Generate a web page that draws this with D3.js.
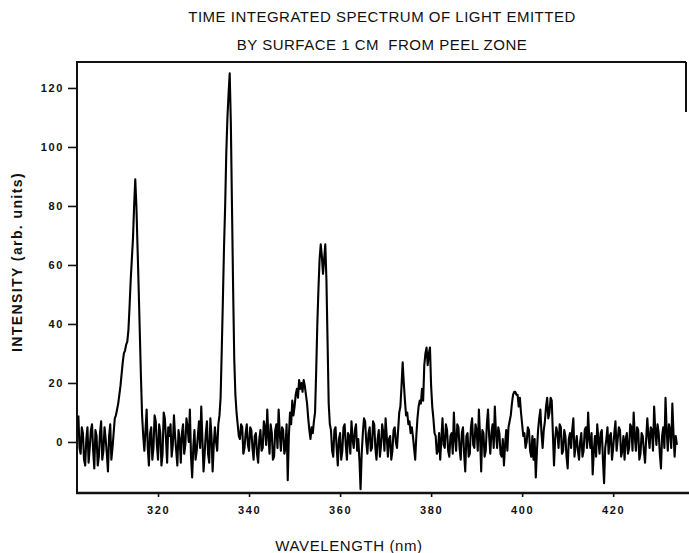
<!DOCTYPE html>
<html>
<head>
<meta charset="utf-8">
<script src="https://cdn.jsdelivr.net/npm/d3@7"></script>
<style>
  body { margin: 0; background: #fff; }
  svg { display: block; font-family: "Liberation Sans", Arial, sans-serif; }
  .tick text { font-weight: bold; font-size: 11px; letter-spacing: 1.6px; fill: #111; }
  .tick line { stroke: #111; stroke-width: 1.6; }
  .domain { display: none; }
</style>
</head>
<body>
<div id="chart"></div>
<script>
// Spectrum samples, one every 0.25 nm starting at 302.5 nm
const wavelengthStart = 302.5;
const wavelengthStep = 0.25;
const intensity = [
  // 302.5 - 312.25
  9, -2, -4, 5, 3, -6, -8, 1, 5, -7, -2, 4, 6, -3, -9, 4, 2, -8, -5, 3,
  7, -6, -3, 5, 1, -4, -10, 2, 6, -6, -2, 3, 8, 9, 11, 13, 16, 19, 23, 27,
  // 312.5 - 322.25
  30, 31, 33, 34, 38, 46, 55, 62, 69, 80, 89, 80, 66, 52, 37, 22, 9, 2, -3, 4,
  11, -2, -8, 3, 5, -6, -2, 9, 7, -1, -6, 6, 3, -8, -4, 10, 8, 1, -7, 5,
  // 322.5 - 332.25
  2, 6, -5, -1, 9, 2, -3, -8, 4, 1, -7, 3, 6, -4, -1, 8, 5, 0, 11, -5,
  -12, -2, 4, -6, -3, 2, 7, -2, 12, 1, -10, -4, 3, 7, -4, -7, 8, 2, -10, -1,
  // 332.5 - 342.25
  5, 0, -3, 6, 9, 15, 31, 48, 66, 80, 98, 110, 118, 125, 108, 80, 52, 28, 16, 10,
  6, 2, 1, 6, 5, -4, -2, 3, 6, -1, -3, 5, 4, -2, -6, 2, 3, -4, -7, 1,
  // 342.5 - 352.25
  4, -3, -2, 7, 5, -1, 11, 2, -4, 6, 3, -6, -5, 4, 6, -2, 11, 3, -3, 5,
  4, -4, -2, 6, -13, 2, 10, 6, 14, 9, 12, 16, 18, 15, 21, 18, 20, 17, 21, 19,
  // 352.5 - 362.25
  16, 13, 8, 4, 1, 5, 3, 7, 10, 24, 40, 52, 62, 67, 63, 57, 62, 67, 55, 34,
  13, 6, 4, -3, -5, 4, 5, -2, -8, 1, 3, -6, -3, 5, 6, -1, -6, 3, 2, -4,
  // 362.5 - 372.25
  7, 1, -2, 4, 6, -3, 1, -6, -16, -4, 3, 8, 7, 0, -4, 3, 5, -3, -2, 7,
  6, -2, -6, 1, 4, -5, -1, 6, 3, -3, 8, 2, -5, 1, 2, -6, -3, 4, 5, 0,
  // 372.5 - 382.25
  -2, 4, 10, 12, 19, 27, 20, 14, 9, 10, 6, 7, 3, 5, 2, -2, -6, 2, 8, 12,
  14, 13, 18, 14, 26, 30, 32, 26, 30, 32, 19, 12, 8, 3, 2, -4, -3, 3, -6, 1,
  // 382.5 - 392.25
  8, -1, -2, 6, 4, -3, -5, 2, 3, -4, 10, 1, -3, 6, 5, -2, -6, 3, 5, -4,
  -10, 2, 3, -5, -4, 5, 8, -1, -2, 6, 4, -3, 11, 2, -10, 4, 3, -5, -3, 6,
  // 392.5 - 402.25
  11, 2, -4, 3, 6, -2, 12, 3, -2, 5, 3, -4, -5, 1, -8, -1, 4, -3, 5, 7,
  9, 13, 16, 17, 17, 16, 16, 12, 15, 10, 6, 2, 3, -2, 0, 5, 4, -3, -5, 2,
  // 402.5 - 412.25
  -6, 1, -12, -3, 4, 8, 11, 3, -2, 4, 7, 12, 15, 8, 10, 15, 14, 3, -8, 1,
  5, 3, -2, 6, 5, -4, -3, 4, 2, -5, -9, 1, 3, -2, 4, 8, -5, -1, 2, -3,
  // 412.5 - 422.25
  -6, 0, 3, -5, -3, 4, 5, -2, 10, 1, -2, 3, -11, -3, 2, -5, 6, 1, -4, 3,
  4, -6, -14, -2, 1, 5, -4, 2, 3, -6, -2, 3, 7, -3, 1, 5, 4, -5, -3, 2,
  // 422.5 - 432.25
  -6, 1, 3, -4, -2, 6, 5, -3, 10, 2, -3, 5, 4, -6, -4, 3, 2, -3, -7, 1,
  8, 2, -2, 5, 4, -3, 12, 4, -1, 6, 3, -4, -9, 2, 5, -2, 15, 4, -3, 6,
  // 432.5 - 434.0
  4, -2, 13, 3, -5, 2, -1
];

const xTicks = [320, 340, 360, 380, 400, 420];
const yTicks = [0, 20, 40, 60, 80, 100, 120];
const titleLines = [
  "TIME INTEGRATED SPECTRUM OF LIGHT EMITTED",
  "BY SURFACE 1 CM  FROM PEEL ZONE",
];
const xLabel = "WAVELENGTH (nm)";
const yLabel = "INTENSITY (arb. units)";

class Spectrum {
  constructor(_config, _data) {
    this.config = {
      parentElement: _config.parentElement,
      containerWidth: 689,
      containerHeight: 553,
      margin: { top: 62, right: 3, bottom: 60, left: 77 },
    };
    this.data = _data;
    this.initVis();
  }

  initVis() {
    let vis = this;

    vis.svg = d3
      .select(vis.config.parentElement)
      .append("svg")
      .attr("width", vis.config.containerWidth)
      .attr("height", vis.config.containerHeight);

    vis.width =
      vis.config.containerWidth - vis.config.margin.left - vis.config.margin.right;
    vis.height =
      vis.config.containerHeight - vis.config.margin.top - vis.config.margin.bottom;

    vis.chart = vis.svg
      .append("g")
      .attr("transform", `translate(${vis.config.margin.left},${vis.config.margin.top})`);

    // x range runs a bit past the last labelled tick, like the original plot
    vis.xScale = d3.scaleLinear().domain([302.2, 436.0]).range([0, vis.width]);
    vis.yScale = d3.scaleLinear().domain([-17.3, 128.8]).range([vis.height, 0]);

    vis.xAxis = d3.axisBottom(vis.xScale).tickValues(xTicks).tickSize(4).tickPadding(9);
    vis.yAxis = d3.axisLeft(vis.yScale).tickValues(yTicks).tickSize(9).tickPadding(4);

    vis.line = d3
      .line()
      .x((d) => vis.xScale(d.wl))
      .y((d) => vis.yScale(d.value));

    vis.renderVis();
  }

  renderVis() {
    let vis = this;

    vis.chart
      .append("g")
      .attr("transform", `translate(0,${vis.height})`)
      .call(vis.xAxis);

    vis.chart.append("g").call(vis.yAxis);

    // frame: left, bottom and top lines plus the stub of the right edge
    const frame = vis.chart.append("g").attr("stroke", "#111").attr("fill", "none");
    frame.append("line").attr("x1", 0).attr("x2", 0).attr("y1", -1).attr("y2", vis.height + 1)
      .attr("stroke-width", 2);
    frame.append("line").attr("x1", -1).attr("x2", vis.width + 3)
      .attr("y1", vis.height).attr("y2", vis.height).attr("stroke-width", 2.4);
    frame.append("line").attr("x1", 0).attr("x2", vis.width)
      .attr("y1", 0).attr("y2", 0).attr("stroke-width", 2);
    frame.append("line").attr("x1", vis.width).attr("x2", vis.width)
      .attr("y1", 0).attr("y2", 50).attr("stroke-width", 2);

    // spectrum trace, drawn heavy like the scanned original
    vis.chart
      .append("path")
      .datum(vis.data)
      .attr("fill", "none")
      .attr("stroke", "#000")
      .attr("stroke-width", 2.1)
      .attr("stroke-linejoin", "round")
      .attr("d", vis.line);

    // titles
    vis.svg
      .selectAll(".title")
      .data(titleLines)
      .join("text")
      .attr("class", "title")
      .attr("x", 382)
      .attr("y", (d, i) => 22 + i * 28)
      .attr("text-anchor", "middle")
      .attr("font-size", 15)
      .attr("letter-spacing", 0.5)
      .attr("fill", "#111")
      .style("white-space", "pre")
      .text((d) => d);

    vis.svg
      .append("text")
      .attr("x", 349)
      .attr("y", 551)
      .attr("text-anchor", "middle")
      .attr("font-size", 15)
      .attr("letter-spacing", 0.6)
      .attr("fill", "#111")
      .text(xLabel);

    vis.svg
      .append("text")
      .attr("transform", "translate(22,262) rotate(-90)")
      .attr("text-anchor", "middle")
      .attr("font-size", 14)
      .attr("letter-spacing", 1.4)
      .attr("font-weight", "bold")
      .attr("fill", "#111")
      .text(yLabel);
  }
}

const spectrumData = intensity.map((v, i) => ({
  wl: wavelengthStart + i * wavelengthStep,
  value: v,
}));

new Spectrum({ parentElement: "#chart" }, spectrumData);
</script>
</body>
</html>
